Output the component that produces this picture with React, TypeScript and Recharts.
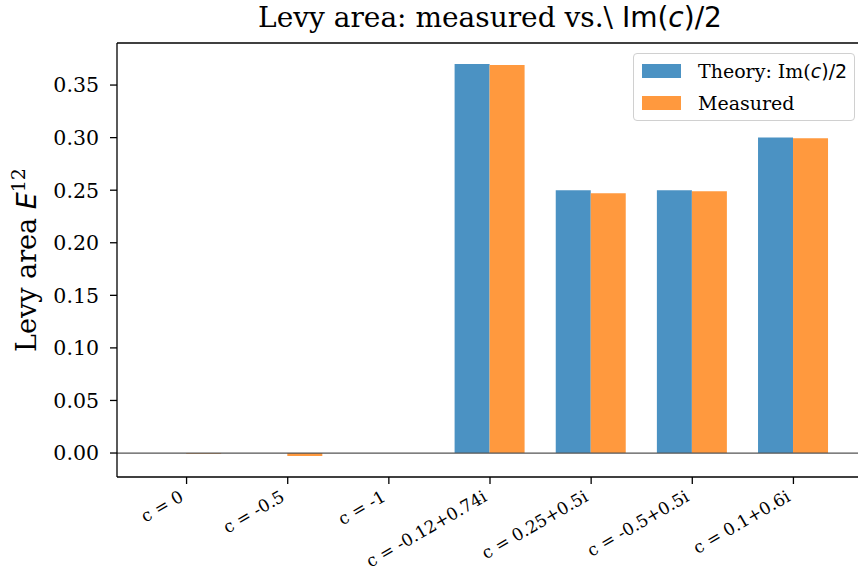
import { Bar, BarChart, ReferenceLine, XAxis, YAxis } from "recharts";

const categories = [
  "c = 0",
  "c = -0.5",
  "c = -1",
  "c = -0.12+0.74i",
  "c = 0.25+0.5i",
  "c = -0.5+0.5i",
  "c = 0.1+0.6i",
];
const theory = [0, 0, 0, 0.37, 0.25, 0.25, 0.3];
const measured = [-0.0008, -0.0028, 0, 0.369, 0.247, 0.249, 0.2995];
const yTicks = [0, 0.05, 0.1, 0.15, 0.2, 0.25, 0.3, 0.35];

const BLUE = "#4b92c3";
const ORANGE = "#ff993e";
const SERIF = "'DejaVu Serif', serif";
const SANS = "'DejaVu Sans', sans-serif";

const data = categories.map((name, i) => ({ name, theory: theory[i], measured: measured[i] }));

function XTick({ x, y, payload }: any) {
  return (
    <g transform={`translate(${x - 2},${y + 14}) rotate(-30)`}>
      <text textAnchor="end" fontFamily={SERIF} fontSize={17} fill="#000">
        {payload.value}
      </text>
    </g>
  );
}

function YTick({ x, y, payload }: any) {
  return (
    <text x={x - 9} y={y} dy="0.36em" textAnchor="end" fontFamily={SERIF} fontSize={20.5} fill="#000">
      {Number(payload.value).toFixed(2)}
    </text>
  );
}

function YLabel({ viewBox }: any) {
  const cy = viewBox.y + viewBox.height / 2;
  return (
    <text transform={`translate(36,${cy}) rotate(-90)`} textAnchor="middle" fontFamily={SERIF} fontSize={27} fill="#000">
      Levy area{" "}
      <tspan fontFamily={SANS} fontStyle="italic">E</tspan>
      <tspan dy={-11} fontSize={19}>12</tspan>
    </text>
  );
}

function LegendBox() {
  const item = (color: string, label: React.ReactNode) => (
    <div style={{ display: "flex", alignItems: "center", height: 32 }}>
      <span style={{ display: "inline-block", width: 39, height: 14, background: color, marginRight: 17, flexShrink: 0 }} />
      <span style={{ fontFamily: SERIF, fontSize: 19, color: "#000", whiteSpace: "nowrap" }}>{label}</span>
    </div>
  );
  return (
    <div
      style={{
        position: "absolute",
        left: 633,
        top: 53,
        width: 205,
        border: "1px solid #d0d0d0",
        borderRadius: 4,
        background: "rgba(255,255,255,0.8)",
        padding: "1px 7px 1px 8px",
      }}
    >
      {item(
        BLUE,
        <>
          Theory: Im(<span style={{ fontFamily: SANS, fontStyle: "italic" }}>c</span>
          <span style={{ fontFamily: SANS }}>)/2</span>
        </>,
      )}
      {item(ORANGE, "Measured")}
    </div>
  );
}

export default function App() {
  return (
    <div style={{ position: "absolute", left: 0, top: 0, width: 858, height: 571, overflow: "hidden", background: "#fff" }}>
      <BarChart
        width={880}
        height={571}
        data={data}
        margin={{ top: 43, right: 17, bottom: 0, left: 0 }}
        barCategoryGap="15%"
        barGap={0}
      >
        <XAxis
          dataKey="name"
          height={94}
          padding={{ left: 19, right: 19 }}
          tick={<XTick />}
          tickSize={7}
          interval={0}
          axisLine={{ stroke: "#000", strokeWidth: 1.3 }}
          tickLine={{ stroke: "#000", strokeWidth: 1.3 }}
        />
        <YAxis
          width={117}
          type="number"
          domain={[-0.0228, 0.39]}
          allowDataOverflow
          ticks={yTicks}
          tick={<YTick />}
          tickSize={7}
          axisLine={{ stroke: "#000", strokeWidth: 1.3 }}
          tickLine={{ stroke: "#000", strokeWidth: 1.3 }}
          label={<YLabel />}
        />
        <Bar dataKey="theory" name="Theory" fill={BLUE} isAnimationActive={false} />
        <Bar dataKey="measured" name="Measured" fill={ORANGE} isAnimationActive={false} />
        <ReferenceLine y={0} stroke="#555" strokeWidth={1.3} />
        <ReferenceLine y={0.39} stroke="#000" strokeWidth={1.3} />
      </BarChart>
      <div
        style={{
          position: "absolute",
          left: 0,
          width: 980,
          top: 1,
          textAlign: "center",
          fontFamily: SERIF,
          fontSize: 28,
          color: "#000",
          whiteSpace: "nowrap",
        }}
      >
        Levy area: measured vs.\ <span style={{ fontFamily: SANS }}>Im(</span>
        <span style={{ fontFamily: SANS, fontStyle: "italic" }}>c</span>
        <span style={{ fontFamily: SANS }}>)/2</span>
      </div>
      <LegendBox />
    </div>
  );
}
